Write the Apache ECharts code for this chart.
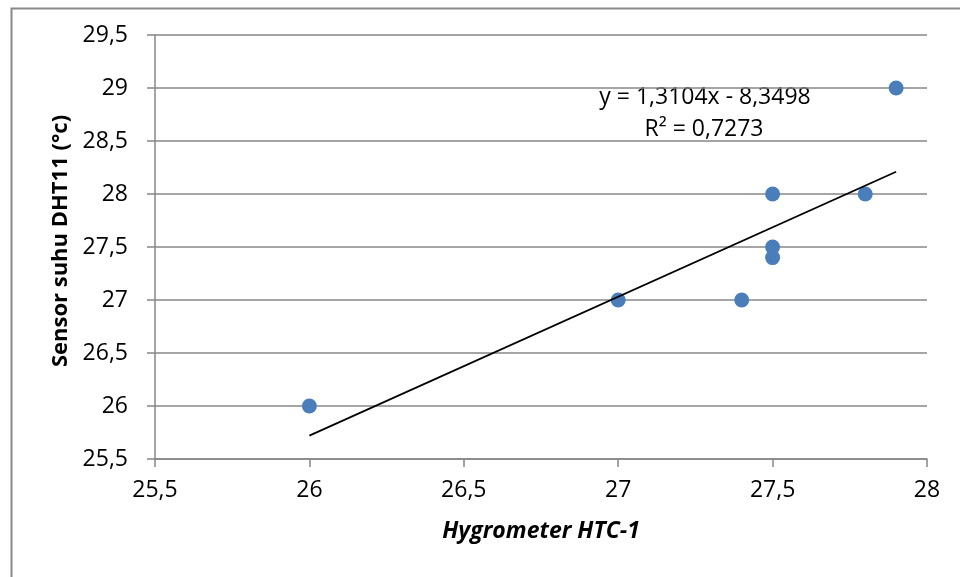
<!DOCTYPE html>
<html>
<head>
<meta charset="utf-8">
<title>Sensor suhu DHT11 vs Hygrometer HTC-1</title>
<script src="https://cdn.jsdelivr.net/npm/echarts@6/dist/echarts.min.js"></script>
<style>
  html, body { margin: 0; padding: 0; background: #ffffff; }
  #chart { width: 960px; height: 577px; }
</style>
</head>
<body>
<div id="chart"></div>
<script>
// Paired readings: hygrometer HTC-1 (x) against DHT11 sensor (y), in °C
const hygrometerHTC1 = [26, 27, 27.4, 27.5, 27.5, 27.5, 27.8, 27.9];
const sensorDHT11   = [26, 27, 27, 28, 27.5, 27.4, 28, 29];

// Linear trendline coefficients
const trendSlope = 1.3104;
const trendIntercept = -8.3498;
const trendR2 = 0.7273;

// Axis ranges
const xAxisRange = [25.5, 28, 0.5];
const yAxisRange = [25.5, 29.5, 0.5];

const FONT = '"Open Sans", "Noto Sans", sans-serif';
const GREY = '#878787';

const comma = v => String(v).replace('.', ',');

const points = hygrometerHTC1.map((x, i) => [x, sensorDHT11[i]]);
const xMin = Math.min(...hygrometerHTC1);
const xMax = Math.max(...hygrometerHTC1);
const trend = [xMin, xMax].map(x => [x, trendSlope * x + trendIntercept]);

const eqText = 'y = ' + comma(trendSlope) + 'x - ' + comma(Math.abs(trendIntercept));
const r2Text = 'R² = ' + comma(trendR2);

const chart = echarts.init(document.getElementById('chart'), null, { renderer: 'canvas' });

chart.setOption({
  animation: false,
  backgroundColor: '#ffffff',
  grid: { left: 155, top: 35, right: 33, bottom: 118, containLabel: false },
  xAxis: {
    type: 'value',
    min: xAxisRange[0], max: xAxisRange[1], interval: xAxisRange[2],
    name: 'Hygrometer HTC-1',
    nameLocation: 'middle',
    nameGap: 61,
    nameTextStyle: { fontFamily: FONT, fontSize: 23, fontWeight: 'bold', fontStyle: 'italic', color: '#000' },
    axisLine: { show: true, lineStyle: { color: GREY, width: 1.5 } },
    axisTick: { show: true, inside: false, length: 8, lineStyle: { color: GREY, width: 1.5 } },
    axisLabel: { margin: 20, fontFamily: FONT, fontSize: 23, color: '#000', formatter: comma },
    splitLine: { show: false }
  },
  yAxis: {
    type: 'value',
    min: yAxisRange[0], max: yAxisRange[1], interval: yAxisRange[2],
    name: 'Sensor suhu DHT11 (°c)',
    nameLocation: 'middle',
    nameGap: 80,
    nameRotate: 90,
    nameTextStyle: { fontFamily: FONT, fontSize: 22, fontWeight: 'bold', color: '#000', padding: [0, 0, 0, 12] },
    axisLine: { show: true, lineStyle: { color: GREY, width: 1.5 } },
    axisTick: { show: true, inside: false, length: 8, lineStyle: { color: GREY, width: 1.5 } },
    axisLabel: { margin: 27, fontFamily: FONT, fontSize: 23, color: '#000', formatter: comma },
    splitLine: { show: true, lineStyle: { color: GREY, width: 1.5 } }
  },
  series: [
    {
      name: 'Sensor suhu DHT11',
      type: 'scatter',
      data: points,
      symbol: 'circle',
      symbolSize: 15,
      itemStyle: { color: '#4A7EBB', opacity: 1 },
      z: 2
    },
    {
      name: 'Linear trend',
      type: 'line',
      data: trend,
      symbol: 'none',
      lineStyle: { color: '#000000', width: 1.8 },
      z: 3
    }
  ],
  graphic: [
    {
      type: 'rect',
      left: 9, top: 6,
      shape: { width: 1000, height: 1000 },
      style: { fill: 'none', stroke: '#898989', lineWidth: 2 },
      silent: true
    },
    {
      type: 'text',
      x: 705, y: 97,
      style: { text: eqText, font: '23px ' + FONT, fill: '#000', align: 'center', verticalAlign: 'middle' }
    },
    {
      type: 'text',
      x: 704, y: 129,
      style: { text: r2Text, font: '23px ' + FONT, fill: '#000', align: 'center', verticalAlign: 'middle' }
    }
  ]
});
</script>
</body>
</html>
